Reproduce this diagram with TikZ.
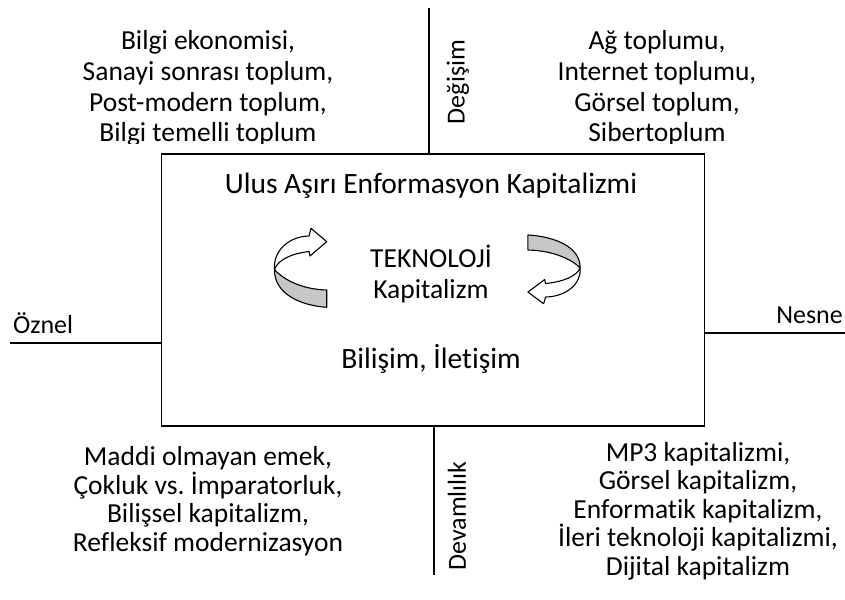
\documentclass[tikz,border=0pt]{standalone}
\usepackage{fontspec}
\setmainfont{Carlito}[Ligatures=NoCommon]
\begin{document}
\begin{tikzpicture}[x=1pt,y=-1pt,
  txt/.style={inner sep=0pt, align=center, font=\fontsize{27.5}{30.5}\selectfont},
  txtbig/.style={inner sep=0pt, align=center, font=\fontsize{29.5}{32}\selectfont},
  txtb/.style={inner sep=0pt, align=center, font=\fontsize{27.5}{28.5}\selectfont},
  axtxt/.style={inner sep=0pt, font=\fontsize{26}{30}\selectfont},
  line/.style={line width=1.6pt},
  arrowwhite/.style={fill=white, draw=black, line width=1.1pt, line join=round},
  arrowgray/.style={fill=black!22, draw=black, line width=1.1pt, line join=round}]
\useasboundingbox (0,0) rectangle (845,599);
% axes
\coordinate (vt) at (429,8);
\coordinate (vb) at (434,575);
\coordinate (hl) at (10,343);
\coordinate (hr) at (845,333);
\node[draw, line width=1.6pt, fill=white, minimum width=543pt, minimum height=272pt, anchor=north west, inner sep=0pt] (box) at (160.5,153) {};
\draw[line] (vt) -- (vt |- box.north);
\draw[line] (vb |- box.south) -- (vb);
\draw[line] (hl) -- (hl -| box.west);
\draw[line] (hr -| box.east) -- (hr);
% corner texts (base = last line)
\begin{scope}
\clip (0,0) rectangle (845,143);
\node[txt, anchor=base] (tl) at (208,141.5) {Bilgi ekonomisi,\\Sanayi sonrası toplum,\\Post-modern toplum,\\Bilgi temelli toplum};
\node[txt, anchor=base] (tr) at (657,141.5) {Ağ toplumu,\\Internet toplumu,\\Görsel toplum,\\Sibertoplum};
\end{scope}
\node[txtb, anchor=base] (bl) at (208,551) {Maddi olmayan emek,\\Çokluk vs.\ İmparatorluk,\\Bilişsel kapitalizm,\\Refleksif modernizasyon};
\node[txtb, anchor=base] (br) at (698,575) {MP3 kapitalizmi,\\Görsel kapitalizm,\\Enformatik kapitalizm,\\İleri teknoloji kapitalizmi,\\Dijital kapitalizm};
% axis labels
\node[axtxt, rotate=90] (deg) at (458,82) {Değişim};
\node[axtxt, rotate=90] (dev) at (457,516) {Devamlılık};
\node[axtxt, anchor=base west] (oz) at (13,333) {Öznel};
\node[axtxt, anchor=base east] (ne) at (843,323) {Nesne};
% box texts
\node[txtbig, anchor=base] (ulus) at (431,193) {Ulus Aşırı Enformasyon Kapitalizmi};
\node[txt, anchor=base] (tek) at (431,267) {TEKNOLOJİ};
\node[txt, anchor=base] (kap) at (431,298) {Kapitalizm};
\node[txtbig, anchor=base] (bil) at (431,368) {Bilişim, İletişim};
% curved arrows
\foreach \px/\py/\rot/\ys in {300/267.5/0/1, 554.6/269.6/180/0.87}{
\begin{scope}[shift={(\px,\py)}, rotate=\rot, yscale=\ys]
\path[arrowgray] (-25.5,2) .. controls (-15,14) and (5,22) .. (26.7,22.5) -- (26.7,39.8) .. controls (0,38) and (-26,26) .. (-25.5,2) -- cycle;
\path[arrowwhite] (9,-31.5) -- (11,-39.2) -- (26.7,-25.8) -- (10,-11.5) -- (9,-16) .. controls (-8,-14) and (-22,-8) .. (-25.5,2) .. controls (-27,-16) and (-12,-31) .. (9,-31.5) -- cycle;
\end{scope}}
\end{tikzpicture}
\end{document}
